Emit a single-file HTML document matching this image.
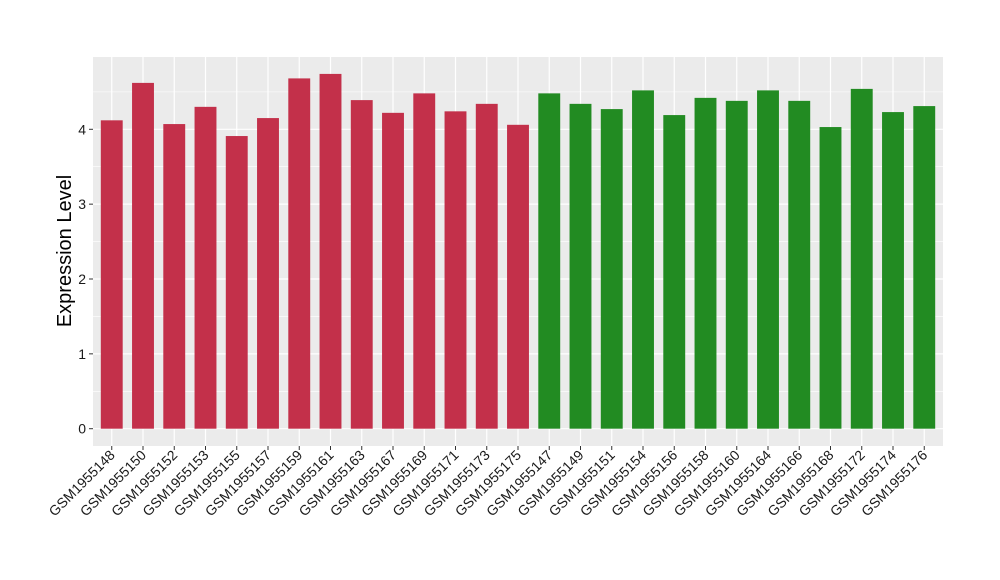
<!DOCTYPE html>
<html><head><meta charset="utf-8"><style>html,body{margin:0;padding:0;background:#fff}svg{display:block}</style></head>
<body>
<svg id="c" width="1000" height="580" xmlns="http://www.w3.org/2000/svg" font-family="Liberation Sans, sans-serif">
<rect x="93" y="57" width="850" height="389" fill="#EBEBEB"/>
<g id="g"></g>
<text transform="translate(71,251) rotate(-90)" text-anchor="middle" font-size="20" fill="#000">Expression Level</text>
</svg>
<script>
var red=[4.12,4.62,4.07,4.3,3.91,4.15,4.68,4.74,4.39,4.22,4.48,4.24,4.34,4.06];
var green=[4.48,4.34,4.27,4.52,4.19,4.42,4.38,4.52,4.38,4.03,4.54,4.23,4.31];
var names=["GSM1955148","GSM1955150","GSM1955152","GSM1955153","GSM1955155","GSM1955157","GSM1955159","GSM1955161","GSM1955163","GSM1955167","GSM1955169","GSM1955171","GSM1955173","GSM1955175","GSM1955147","GSM1955149","GSM1955151","GSM1955154","GSM1955156","GSM1955158","GSM1955160","GSM1955164","GSM1955166","GSM1955168","GSM1955172","GSM1955174","GSM1955176"];
var vals=red.concat(green);
var y0=428.7,u=74.85,sp=31.25,x0=111.75,bw=21.9;
var s="";
for(var k=0;k<=9;k++){var y=y0-k*0.5*u;if(y<57)break;s+='<line x1="93" x2="943" y1="'+y+'" y2="'+y+'" stroke="#fff" stroke-width="'+(k%2?0.6:1.2)+'"/>';}
for(var i=0;i<27;i++){var x=x0+i*sp;s+='<line x1="'+x+'" x2="'+x+'" y1="57" y2="446" stroke="#fff" stroke-width="1.2"/>';}
for(var i=0;i<27;i++){var x=x0+i*sp,h=vals[i]*u;
s+='<rect x="'+(x-bw/2)+'" y="'+(y0-h)+'" width="'+bw+'" height="'+h+'" fill="'+(i<14?'#C3304A':'#228B22')+'"/>';
s+='<line x1="'+x+'" x2="'+x+'" y1="446" y2="450" stroke="#333" stroke-width="1"/>';
s+='<text transform="translate('+(x+4)+',456) rotate(-45)" text-anchor="end" font-size="14" fill="#1a1a1a">'+names[i]+'</text>';}
for(var k=0;k<=4;k++){var y=y0-k*u;s+='<line x1="89" x2="93" y1="'+y+'" y2="'+y+'" stroke="#333"/>';s+='<text x="86" y="'+(y+5)+'" text-anchor="end" font-size="14" fill="#1a1a1a">'+k+'</text>';}
document.getElementById("g").innerHTML=s;
</script>
</body></html>
